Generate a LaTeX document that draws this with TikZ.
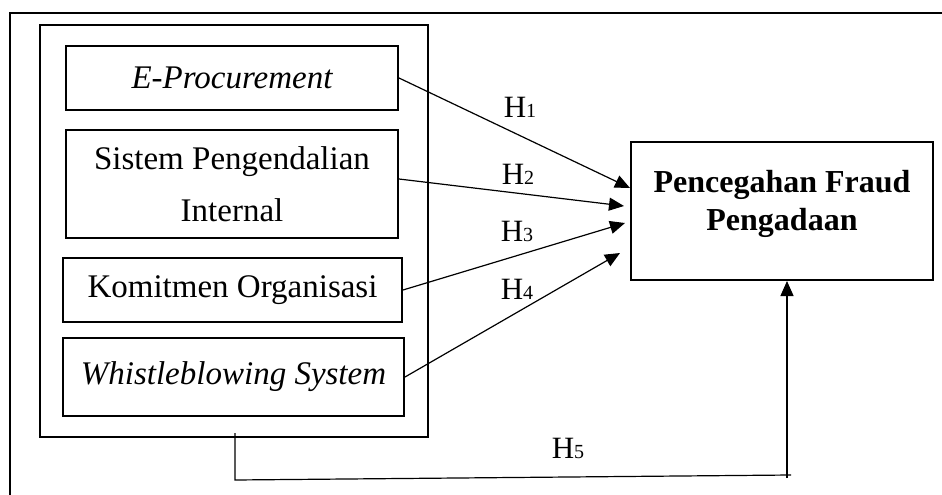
\documentclass[tikz,border=0pt]{standalone}
\usepackage{fontspec}
\setmainfont{Liberation Serif}
\usetikzlibrary{arrows.meta,calc}
\tikzset{
  box/.style={draw, line width=2pt, inner sep=0pt, align=center, font=\fontsize{33}{52}\selectfont},
  conn/.style={line width=1.2pt},
  arr/.style={line width=1.2pt, -{Triangle[length=15pt,width=13pt]}},
  hlab/.style={inner sep=0pt, font=\fontsize{31}{34}\selectfont},
}
\newcommand{\hyp}[1]{H{\fontsize{20}{20}\selectfont #1}}
\begin{document}
\begin{tikzpicture}[x=1pt,y=-1pt]
\useasboundingbox (0,0) rectangle (942,495);
% outer open frame
\draw[line width=2pt] (942,13) -- (10,13) -- (10,495);
% group box
\node[box, minimum width=388pt, minimum height=412pt] (grp) at (234,231) {};
\node[box, minimum width=332pt, minimum height=64pt] (ep) at (232,78) {\itshape E-Procurement};
\node[box, minimum width=332pt, minimum height=108pt] (sp) at (232,184) {Sistem Pengendalian\\Internal};
\node[box, minimum width=339pt, minimum height=64pt] (km) at (232.5,290) {Komitmen Organisasi};
\node[box, minimum width=341pt, minimum height=78pt] (ws) at (233.5,377) {\itshape Whistleblowing System};
\node[box, minimum width=302pt, minimum height=138pt, font=\fontsize{32}{38}\selectfont\bfseries] (tg) at (782,211) {\raisebox{7pt}[\height][\depth]{\begin{tabular}{@{}c@{}}Pencegahan Fraud\\Pengadaan\end{tabular}}};
% arrows
\draw[arr] (ep.east) -- ([yshift=23pt]tg.west);
\draw[arr] ([yshift=5pt]sp.east) -- ([xshift=-6pt,yshift=5pt]tg.west);
\draw[arr] (km.east) -- ([xshift=-5pt,yshift=-12pt]tg.west);
\draw[arr] (ws.east) -- ([xshift=-10pt,yshift=-42pt]tg.west);
% H5 path
\coordinate (h5s) at (235,433);
\coordinate (h5a) at (235,480);
\coordinate (h5b) at (791,475);
\coordinate (h5c) at (787,478);
\draw[conn] (h5s) -- (h5a) -- (h5b);
\draw[arr] (h5c) -- (h5c |- tg.south);
% labels
\node[hlab] (l1) at (520,107) {\hyp{1}};
\node[hlab] (l2) at (518,174) {\hyp{2}};
\node[hlab] (l3) at (517,231) {\hyp{3}};
\node[hlab] (l4) at (517,289) {\hyp{4}};
\node[hlab] (l5) at (568,448) {\hyp{5}};
\end{tikzpicture}
\end{document}
